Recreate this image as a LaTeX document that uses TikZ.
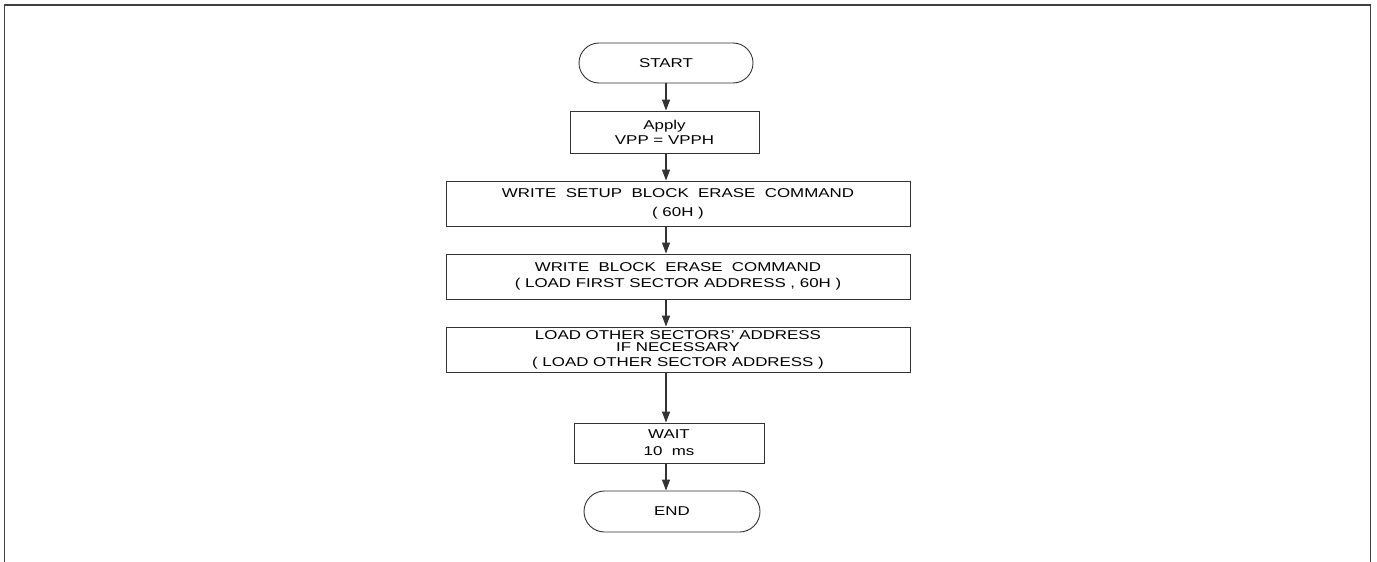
\documentclass[tikz,border=0pt]{standalone}
\usepackage{fontspec}
\setmainfont[FakeStretch=1.32]{Liberation Sans}
\usetikzlibrary{shapes.misc,arrows.meta}

\begin{document}
\begin{tikzpicture}[x=1pt,y=-1pt,
  terminal/.style={draw=black!80, line width=0.9pt, rounded rectangle, minimum width=174pt, minimum height=40pt, inner sep=0pt, font=\fontsize{12.8}{15}\selectfont},
  process/.style={draw=black!80, line width=0.9pt, rectangle, inner sep=0pt, align=center, font=\fontsize{12.8}{15}\selectfont},
  wide/.style={process, minimum width=464pt, minimum height=45pt},
  flow/.style={draw=black!80, line width=1.1pt, -{Triangle[length=11pt,width=8pt]}}]
\useasboundingbox (0,0) rectangle (1377,562);
% page frame
\draw[line width=1.5pt, black!75] (4.5,562) -- (4.5,5) -- (1370.5,5) -- (1370.5,562);
\node[terminal] (start) at (666,63) {START};
\node[process, minimum width=189pt, minimum height=42pt] (apply) at (664.5,132) {Apply\\VPP = VPPH};
\node[wide] (setup) at (678,203.5) {WRITE~~SETUP~~BLOCK~~ERASE~~COMMAND\\[4pt]( 60H )};
\node[wide] (erase) at (678,276.5) {WRITE~~BLOCK~~ERASE~~COMMAND\\[1pt]( LOAD FIRST SECTOR ADDRESS , 60H )};
\node[wide, font=\fontsize{12.8}{12}\selectfont] (other) at (678,349.5) {LOAD OTHER SECTORS' ADDRESS\\IF NECESSARY\\[3pt]( LOAD OTHER SECTOR ADDRESS )};
\node[process, minimum width=190pt, minimum height=40pt] (wait) at (669,443) {WAIT\\[2pt]10~~ms};
\node[terminal, minimum width=176pt, minimum height=41pt] (end) at (672,511.5) {END};
% connectors
\draw[flow] (start.south) -- (start.south |- apply.north);
\draw[flow] (start.south |- apply.south) -- (start.south |- setup.north);
\draw[flow] (start.south |- setup.south) -- (start.south |- erase.north);
\draw[flow] (start.south |- erase.south) -- (start.south |- other.north);
\draw[flow] (start.south |- other.south) -- (start.south |- wait.north);
\draw[flow] (start.south |- wait.south) -- (start.south |- end.north);
\end{tikzpicture}
\end{document}
